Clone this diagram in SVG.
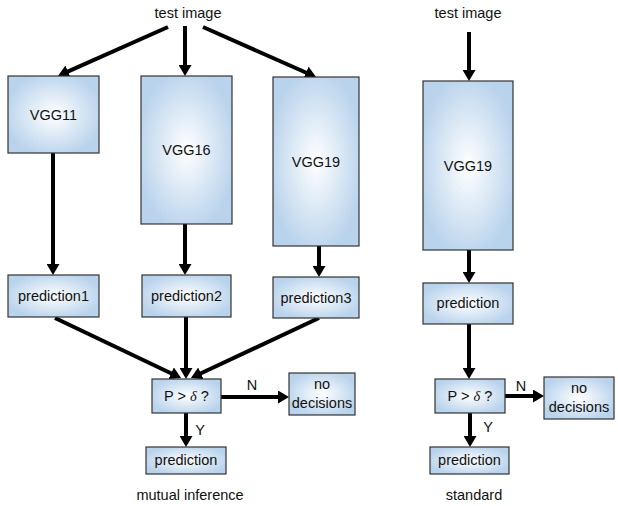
<svg xmlns="http://www.w3.org/2000/svg" width="618" height="506" viewBox="0 0 618 506">
<style>
text{font-family:"Liberation Sans","Open Sans",Arial,sans-serif;fill:#111;text-anchor:middle}
.lbl{font-size:14.5px}
.box{fill:url(#bg);stroke:#333;stroke-width:1.2}
.t{font-size:14.5px}
.edge{stroke:#000;stroke-width:4;fill:none;marker-end:url(#ah)}
.d{font-family:"Liberation Serif",serif;font-style:italic}
</style>
<defs>
<radialGradient id="bg" cx="0.5" cy="0.5" r="0.55">
<stop offset="0" stop-color="#ffffff"/>
<stop offset="1" stop-color="#b9d3ec"/>
</radialGradient>
<marker id="ah" markerUnits="userSpaceOnUse" markerWidth="12" markerHeight="13" viewBox="0 0 12 13" refX="1" refY="6.5" orient="auto">
<path d="M0,0 L11,6.5 L0,13 z" fill="#000"/>
</marker>
</defs>

<text class="lbl" x="188" y="18">test image</text>
<text class="lbl" x="468" y="18">test image</text>
<text class="lbl" x="190" y="500">mutual inference</text>
<text class="lbl" x="474" y="500">standard</text>

<g id="connectors">
<line class="edge" x1="168" y1="27" x2="67.1" y2="71.9"/>
<line class="edge" x1="185" y1="26" x2="185" y2="66"/>
<line class="edge" x1="203" y1="27" x2="306.9" y2="73"/>
<line class="edge" x1="53" y1="153" x2="53" y2="265"/>
<line class="edge" x1="185" y1="224" x2="185" y2="265"/>
<line class="edge" x1="319" y1="246" x2="319" y2="267"/>
<line class="edge" x1="55" y1="318" x2="172" y2="373.7"/>
<line class="edge" x1="186" y1="317" x2="186" y2="369"/>
<line class="edge" x1="319" y1="318" x2="200" y2="373.8"/>
<line class="edge" x1="221" y1="397" x2="279" y2="397"/>
<line class="edge" x1="186" y1="413" x2="186" y2="437"/>
<line class="edge" x1="469" y1="32" x2="469" y2="71"/>
<line class="edge" x1="469" y1="250" x2="469" y2="273"/>
<line class="edge" x1="469" y1="324" x2="469" y2="369"/>
<line class="edge" x1="505" y1="396" x2="534" y2="396"/>
<line class="edge" x1="470" y1="413" x2="470" y2="437"/>
<text class="t" x="252" y="390">N</text>
<text class="t" x="200" y="435">Y</text>
<text class="t" x="521" y="391">N</text>
<text class="t" x="488" y="432">Y</text>
</g>

<g id="vgg11"><rect class="box" x="8" y="76" width="91" height="77"/><text class="t" x="53.5" y="120">VGG11</text></g>
<g id="vgg16"><rect class="box" x="141" y="76" width="91" height="148"/><text class="t" x="186.5" y="155">VGG16</text></g>
<g id="vgg19a"><rect class="box" x="273" y="77" width="86" height="169"/><text class="t" x="316" y="167">VGG19</text></g>
<g id="pred1"><rect class="box" x="8" y="275" width="91" height="42"/><text class="t" x="53.5" y="301">prediction1</text></g>
<g id="pred2"><rect class="box" x="142" y="275" width="89" height="42"/><text class="t" x="186.5" y="301">prediction2</text></g>
<g id="pred3"><rect class="box" x="273" y="277" width="86" height="41"/><text class="t" x="316" y="303">prediction3</text></g>
<g id="thresh1"><rect class="box" x="152" y="379" width="69" height="34"/><text class="t" x="186.5" y="401">P &gt; <tspan class="d">δ</tspan> ?</text></g>
<g id="nodec1"><rect class="box" x="289" y="373" width="66" height="42"/><text class="t" x="322" y="389">no</text><text class="t" x="322" y="408">decisions</text></g>
<g id="pred_out1"><rect class="box" x="146" y="447" width="80" height="27"/><text class="t" x="186" y="465">prediction</text></g>

<g id="vgg19b"><rect class="box" x="423" y="81" width="90" height="169"/><text class="t" x="468" y="171">VGG19</text></g>
<g id="pred_std"><rect class="box" x="423" y="283" width="90" height="41"/><text class="t" x="468" y="308">prediction</text></g>
<g id="thresh2"><rect class="box" x="435" y="379" width="70" height="34"/><text class="t" x="470" y="401">P &gt; <tspan class="d">δ</tspan> ?</text></g>
<g id="nodec2"><rect class="box" x="544" y="377" width="70" height="42"/><text class="t" x="579" y="393">no</text><text class="t" x="579" y="412">decisions</text></g>
<g id="pred_out2"><rect class="box" x="430" y="447" width="79" height="27"/><text class="t" x="469.5" y="465">prediction</text></g>
</svg>
